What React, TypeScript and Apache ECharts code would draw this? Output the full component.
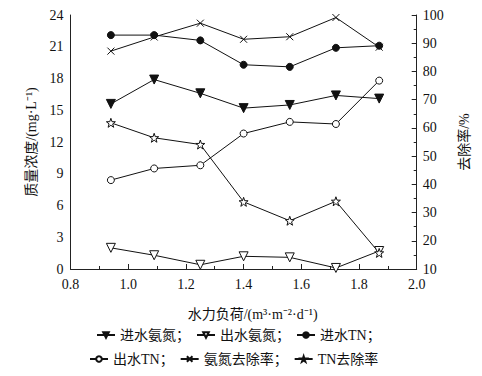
import React, { useEffect, useRef } from "react";
import * as echarts from "echarts";

const hydraulicLoad = [0.94, 1.09, 1.25, 1.4, 1.56, 1.72, 1.87];
const inNH = [15.6, 17.9, 16.6, 15.2, 15.5, 16.4, 16.1];
const outNH = [2.0, 1.3, 0.4, 1.2, 1.1, 0.1, 1.7];
const inTN = [22.1, 22.1, 21.6, 19.3, 19.1, 20.9, 21.1];
const outTN = [8.4, 9.5, 9.8, 12.8, 13.9, 13.7, 17.8];
const nhRemoval = [87.2, 92.2, 97.1, 91.4, 92.3, 99.1, 88.6];
const tnRemoval = [61.8, 56.5, 54.1, 33.8, 27.1, 34.0, 15.7];

const seriesNames = ["进水氨氮", "出水氨氮", "进水TN", "出水TN", "氨氮去除率", "TN去除率"];

const FONT = "'Liberation Serif', 'Times New Roman', 'Noto Sans CJK SC', serif";
const STAR =
  "path://M10,0L12.35,6.76L19.51,6.91L13.8,11.24L15.88,18.09L10,14L4.12,18.09L6.2,11.24L0.49,6.91L7.65,6.76Z";
const TRI_DOWN = "path://M0,0L10,0L5,9Z";
const CROSS = "path://M0,0L10,10M10,0L0,10";

function pair(xs: number[], ys: number[]) {
  return xs.map((x, i) => [x, ys[i]]);
}

export default function App() {
  const ref = useRef<HTMLDivElement>(null);
  useEffect(() => {
    const chart = echarts.init(ref.current!, null, { renderer: "svg" });
    const mk = (
      name: string,
      data: number[],
      symbol: string,
      size: number,
      fill: string,
      yAxisIndex: number
    ) => ({
      name,
      type: "line",
      yAxisIndex,
      data: pair(hydraulicLoad, data),
      symbol,
      symbolSize: size,
      showAllSymbol: true,
      lineStyle: { color: "#111", width: 1 },
      itemStyle: { color: fill, borderColor: "#111", borderWidth: 1 },
      z: 3,
    });
    const axisText = { color: "#111", fontFamily: FONT, fontSize: 14 };
    const legendCommon = {
      itemWidth: 18,
      itemHeight: 7,
      itemGap: 6,
      textStyle: { color: "#111", fontFamily: FONT, fontSize: 14 },
    };
    chart.setOption({
      animation: false,
      grid: { left: 70.5, right: 65.3, top: 15, bottom: 107, containLabel: false },
      xAxis: {
        type: "value",
        min: 0.8,
        max: 2.0,
        interval: 0.2,
        name: "水力负荷/(m³·m⁻²·d⁻¹)",
        nameLocation: "middle",
        nameGap: 38,
        nameTextStyle: { ...axisText, padding: [0, 0, 0, 18] },
        axisLine: { lineStyle: { color: "#222", width: 1 } },
        axisTick: { inside: true, length: 5, lineStyle: { color: "#222" } },
        minorTick: { show: true, splitNumber: 2, length: 3, lineStyle: { color: "#222" } },
        splitLine: { show: false },
        axisLabel: { ...axisText, margin: 8, formatter: (v: number) => v.toFixed(1) },
      },
      yAxis: [
        {
          type: "value",
          min: 0,
          max: 24,
          interval: 3,
          position: "left",
          name: "质量浓度/(mg·L⁻¹)",
          nameLocation: "middle",
          nameRotate: 90,
          nameGap: 32,
          nameTextStyle: axisText,
          axisLine: { show: true, lineStyle: { color: "#222", width: 1 } },
          axisTick: { show: false },
          splitLine: { show: false },
          axisLabel: { ...axisText, margin: 7 },
        },
        {
          type: "value",
          min: 10,
          max: 100,
          interval: 10,
          position: "right",
          name: "去除率/%",
          nameLocation: "middle",
          nameRotate: 90,
          nameGap: 41,
          nameTextStyle: axisText,
          axisLine: { show: true, lineStyle: { color: "#222", width: 1 } },
          axisTick: { show: true, inside: true, length: 5, lineStyle: { color: "#222" } },
          minorTick: { show: true, splitNumber: 2, length: 3, lineStyle: { color: "#222" } },
          splitLine: { show: false },
          axisLabel: { ...axisText, margin: 6 },
        },
      ],
      legend: [
        {
          ...legendCommon,
          data: seriesNames.slice(0, 3),
          left: 91,
          top: 323,
          formatter: (n: string) => n + "；",
        },
        {
          ...legendCommon,
          data: seriesNames.slice(3),
          left: 84,
          top: 347,
          formatter: (n: string) => (n === "TN去除率" ? n : n + "；"),
        },
      ],
      series: [
        mk(seriesNames[0], inNH, TRI_DOWN, 9, "#111", 0),
        mk(seriesNames[1], outNH, TRI_DOWN, 9, "#fff", 0),
        mk(seriesNames[2], inTN, "circle", 7, "#111", 0),
        mk(seriesNames[3], outTN, "circle", 7, "#fff", 0),
        mk(seriesNames[4], nhRemoval, CROSS, 7, "#111", 1),
        mk(seriesNames[5], tnRemoval, STAR, 9, "#fff", 1),
      ],
    });
    return () => chart.dispose();
  }, []);
  return (
    <div
      ref={ref}
      style={{ position: "fixed", left: 0, top: 0, width: 482, height: 376, background: "#fff" }}
    />
  );
}
